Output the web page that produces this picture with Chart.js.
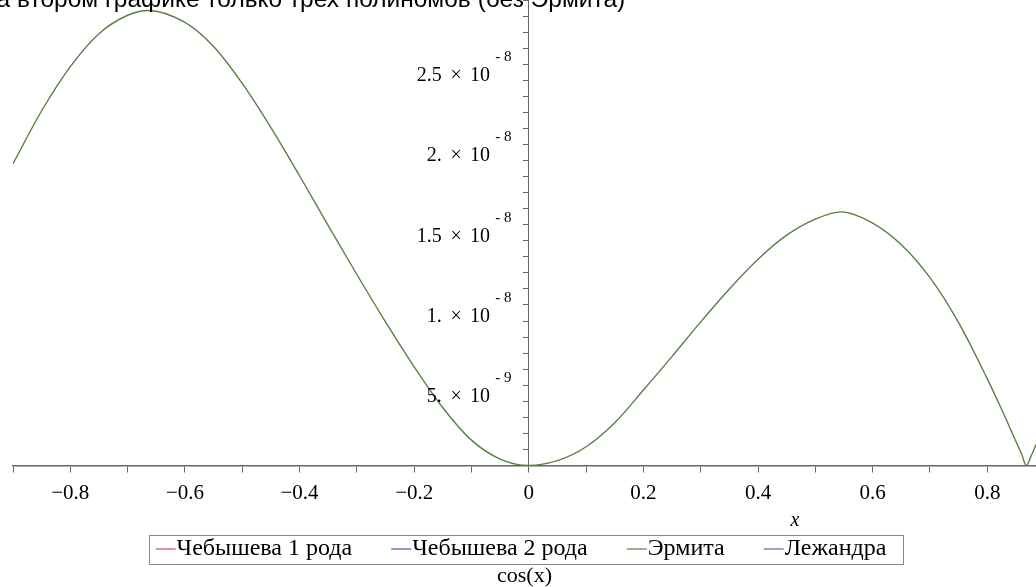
<!DOCTYPE html>
<html>
<head>
<meta charset="utf-8">
<script src="https://cdn.jsdelivr.net/npm/chart.js@4.4.0/dist/chart.umd.min.js"></script>
<style>
html,body{margin:0;padding:0;background:#fff;overflow:hidden;}
#wrap{position:relative;width:1036px;height:587px;overflow:hidden;background:#fff;}
#c{position:absolute;left:0;top:0;}
#cap{position:absolute;left:-17px;top:-13.4px;font-family:"Liberation Sans",Arial,sans-serif;font-size:24.5px;line-height:24.5px;color:#000;white-space:nowrap;}
</style>
</head>
<body>
<div id="wrap">
<canvas id="c" width="1036" height="587"></canvas>
<div id="cap">на втором графике только трех полиномов (без Эрмита)</div>
</div>
<script>
// ---- data (errors in units of 1e-9) ----
const seriesNames = ['Чебышева 1 рода', 'Чебышева 2 рода', 'Эрмита', 'Лежандра'];
const seriesColors = ['#c0506a', '#4a50a8', '#5a8045', '#7a58a8'];

const xValues = [-0.9,-0.85,-0.8,-0.75,-0.7,-0.665,-0.6,-0.55,-0.5,-0.45,-0.4,-0.35,-0.3,-0.25,-0.2,-0.15,-0.1,-0.05,0,0.05,0.1,0.15,0.2,0.25,0.3,0.35,0.4,0.45,0.5,0.545,0.6,0.65,0.7,0.75,0.8,0.825,0.85,0.86,0.868,0.876,0.885];
const hermiteErr = [18.8,22.1,24.85,26.9,28.05,28.35,27.6,26.1,23.8,21.05,18.05,14.95,11.9,8.95,6.15,3.6,1.58,0.4,0,0.3,1.17,2.67,4.7,6.8,8.95,11.0,12.85,14.35,15.35,15.8,15.1,13.75,11.7,8.9,5.4,3.5,1.5,0.7,0,0.55,1.3];

const boundsX = [-0.9, 0.885];
const cheb1Err = [0, 0];
const cheb2Err = [0, 0];
const legendreErr = [0, 0];

const xTickValues = [-0.8,-0.6,-0.4,-0.2,0,0.2,0.4,0.6,0.8];
const xTickLabels = ['−0.8','−0.6','−0.4','−0.2','0','0.2','0.4','0.6','0.8'];
const yTickValues = [5, 10, 15, 20, 25];
const yTickMantissas = ['5.', '1.', '1.5', '2.', '2.5'];
const yTickExponents = ['- 9', '- 8', '- 8', '- 8', '- 8'];
const xAxisTitle = 'x';
const legendTitle = 'cos(x)';

// ---- helpers ----
function pts(xs, ys) { return xs.map((x, i) => ({x: x, y: ys[i]})); }
// legend swatch: canvas centred at x+1; line from x-7 to x+13 (text starts at x+14)
function lineSwatch(color) {
  const c = document.createElement('canvas');
  c.width = 30; c.height = 4;
  const g = c.getContext('2d');
  g.strokeStyle = color; g.lineWidth = 1.2;
  g.beginPath(); g.moveTo(7, 2); g.lineTo(27, 2); g.stroke();
  return c;
}
const swatches = seriesColors.map(lineSwatch);
const SERIF = '"Liberation Serif", "Times New Roman", serif';
const LEG_FS = 24, LEG_PAD = 46, LEG_BW = 2;

const decor = {
  id: 'decor',
  afterDraw(chart) {
    const ctx = chart.ctx;
    const xs = chart.scales.x, ys = chart.scales.y;
    const x0 = xs.getPixelForValue(0);
    ctx.save();
    ctx.fillStyle = '#000';
    // y tick labels  "m × 10^e"
    yTickValues.forEach((v, i) => {
      const py = ys.getPixelForValue(v);
      ctx.font = '20px ' + SERIF;
      ctx.textBaseline = 'alphabetic';
      ctx.textAlign = 'right';
      ctx.fillText(yTickMantissas[i], x0 - 87, py + 17);
      ctx.textAlign = 'center';
      ctx.fillText('×', x0 - 72.7, py + 17);
      ctx.textAlign = 'right';
      ctx.fillText('10', x0 - 38.7, py + 17);
      ctx.font = '15px ' + SERIF;
      ctx.textAlign = 'left';
      ctx.fillText(yTickExponents[i], x0 - 33.5, py - 3);
    });
    // x axis title
    ctx.font = 'italic 20px ' + SERIF;
    ctx.textAlign = 'center';
    ctx.textBaseline = 'middle';
    ctx.fillText(xAxisTitle, 795, 521);
    // legend frame
    const hb = chart.legend.legendHitBoxes;
    if (hb && hb.length) {
      const first = hb[0], last = hb[hb.length - 1];
      const cy = first.top + LEG_FS / 2;
      const lineStart = first.left + LEG_BW + LEG_FS / 2 - 21;
      const l = Math.round(lineStart - 7) + 0.5;
      const r = Math.round(last.left + last.width + 17) + 0.5;
      const t = Math.round(cy - 14.5) + 0.5;
      const b = Math.round(cy + 14.5) + 0.5;
      ctx.strokeStyle = '#8a8a8a';
      ctx.lineWidth = 1;
      ctx.strokeRect(l, t, r - l, b - t);
    }
    ctx.restore();
  }
};

new Chart(document.getElementById('c'), {
  type: 'line',
  data: {
    datasets: [
      {label: seriesNames[0], xAxisID: 'x', data: pts(boundsX, cheb1Err), borderColor: seriesColors[0], backgroundColor: seriesColors[0], borderWidth: 1.2, pointRadius: 0, fill: false},
      {label: seriesNames[1], xAxisID: 'x', data: pts(boundsX, cheb2Err), borderColor: seriesColors[1], backgroundColor: seriesColors[1], borderWidth: 1.2, pointRadius: 0, fill: false},
      {label: seriesNames[2], xAxisID: 'x', data: pts(xValues, hermiteErr), borderColor: seriesColors[2], backgroundColor: seriesColors[2], borderWidth: 1.4, pointRadius: 0, fill: false, cubicInterpolationMode: 'monotone'},
      {label: seriesNames[3], xAxisID: 'x', data: pts(boundsX, legendreErr), borderColor: seriesColors[3], backgroundColor: seriesColors[3], borderWidth: 1.2, pointRadius: 0, fill: false}
    ]
  },
  options: {
    responsive: false,
    animation: false,
    devicePixelRatio: 1,
    layout: {padding: {left: 13, right: 0, top: 0, bottom: 5}},
    events: [],
    scales: {
      x: {
        type: 'linear',
        position: {y: 0},
        min: -0.9,
        max: 0.885,
        z: 1,
        afterFit(scale) { scale.paddingLeft = 0; scale.paddingRight = 0; },
        grid: {drawOnChartArea: false, drawTicks: true, tickLength: 6, color: '#666', lineWidth: 1},
        border: {display: true, color: '#5f5f5f', width: 1.5},
        ticks: {
          stepSize: 0.1,
          includeBounds: false,
          autoSkip: false,
          maxRotation: 0,
          minRotation: 0,
          padding: 9.5,
          color: '#000',
          font: {family: SERIF, size: 21},
          callback: (v) => {
            const i = xTickValues.findIndex(t => Math.abs(t - v) < 1e-6);
            return i >= 0 ? xTickLabels[i] : '';
          }
        }
      },
      xgap: {
        type: 'linear',
        axis: 'x',
        position: 'bottom',
        display: true,
        afterFit(scale) { scale.height = 25.5; scale.paddingLeft = 0; scale.paddingRight = 0; },
        grid: {display: false},
        border: {display: false},
        ticks: {display: false}
      },
      y: {
        type: 'linear',
        position: {x: 0},
        min: 0,
        max: 29,
        z: 1,
        grid: {drawOnChartArea: false, drawTicks: true, tickLength: 5, color: '#666', lineWidth: 1},
        border: {display: true, color: '#666', width: 1},
        ticks: {display: false, stepSize: 1}
      }
    },
    plugins: {
      legend: {
        display: true,
        position: 'bottom',
        align: 'center',
        labels: {
          usePointStyle: true,
          pointStyleWidth: LEG_BW,
          padding: LEG_PAD,
          color: '#000',
          font: {family: SERIF, size: LEG_FS},
          generateLabels(chart) {
            const items = Chart.defaults.plugins.legend.labels.generateLabels(chart);
            items.forEach((it, i) => { it.pointStyle = swatches[i]; });
            return items;
          }
        }
      },
      title: {
        display: true,
        position: 'bottom',
        text: legendTitle,
        color: '#000',
        padding: 0,
        font: {family: SERIF, size: 22, weight: 'normal', lineHeight: 0.5}
      },
      tooltip: {enabled: false}
    }
  },
  plugins: [decor]
});
</script>
</body>
</html>
